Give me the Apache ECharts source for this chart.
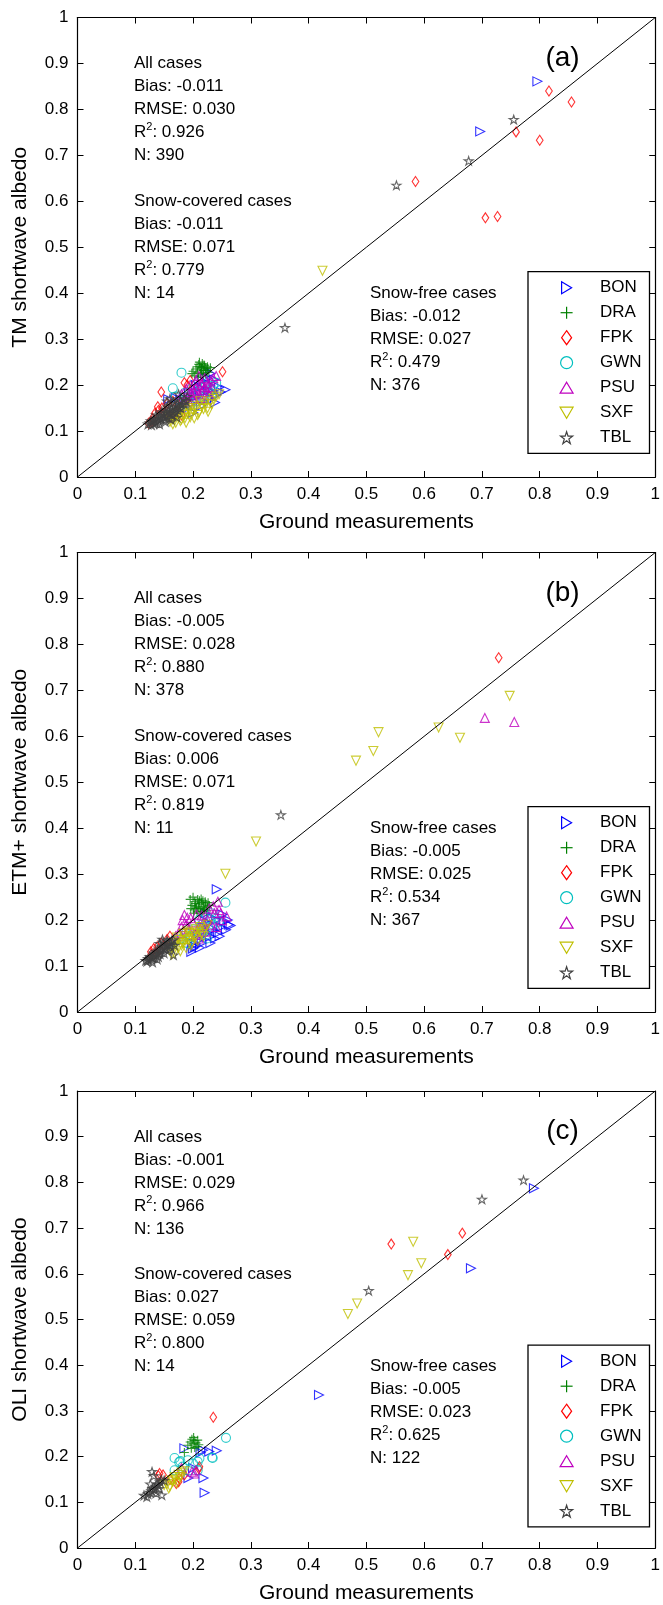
<!DOCTYPE html>
<html><head><meta charset="utf-8">
<script src="https://cdn.jsdelivr.net/npm/echarts@6/dist/echarts.min.js"></script>
<style>html,body{margin:0;padding:0;background:#fff}#c{width:663px;height:1605px}</style>
</head><body><div id="c"></div>
<script>
const stations = ['BON','DRA','FPK','GWN','PSU','SXF','TBL'];
const panelLabels = ['(a)','(b)','(c)'];
const yNames = ['TM shortwave albedo','ETM+ shortwave albedo','OLI shortwave albedo'];
const xName = 'Ground measurements';
const blockTitles = ['All cases','Snow-covered cases','Snow-free cases'];
// [Bias, RMSE, R2, N]
const statsAll  = [['-0.011','0.030','0.926','390'],['-0.005','0.028','0.880','378'],['-0.001','0.029','0.966','136']];
const statsSnow = [['-0.011','0.071','0.779','14'],['0.006','0.071','0.819','11'],['0.027','0.059','0.800','14']];
const statsFree = [['-0.012','0.027','0.479','376'],['-0.005','0.025','0.534','367'],['-0.005','0.023','0.625','122']];

// Panel (a) TM
const a_BON = [[0.796,0.861],[0.697,0.752],[0.256,0.190],[0.240,0.178],[0.235,0.185],[0.228,0.200],[0.222,0.232],[0.215,0.210],[0.210,0.195],[0.205,0.175],[0.198,0.160],[0.190,0.150],[0.185,0.170],[0.178,0.168],[0.170,0.172],[0.225,0.215],[0.232,0.170],[0.245,0.195],[0.218,0.165],[0.200,0.140],[0.212,0.182],[0.157,0.169],[0.238,0.162],[0.226,0.188],[0.193,0.185],[0.248,0.185],[0.236,0.212],[0.205,0.200],[0.196,0.172],[0.214,0.155],[0.230,0.225]];
const a_DRA = [[0.205,0.235],[0.210,0.245],[0.212,0.240],[0.215,0.238],[0.218,0.232],[0.220,0.242],[0.222,0.236],[0.225,0.240],[0.208,0.228],[0.213,0.225],[0.217,0.222],[0.200,0.230],[0.203,0.220],[0.226,0.228],[0.230,0.238],[0.211,0.250],[0.216,0.247],[0.221,0.226],[0.209,0.217],[0.214,0.233],[0.219,0.244],[0.224,0.232],[0.198,0.225],[0.207,0.240]];
const a_FPK = [[0.816,0.840],[0.855,0.816],[0.759,0.751],[0.800,0.733],[0.585,0.643],[0.706,0.564],[0.727,0.567],[0.251,0.229],[0.145,0.185],[0.139,0.153],[0.134,0.139],[0.130,0.128],[0.140,0.145],[0.146,0.150],[0.150,0.140],[0.128,0.120],[0.160,0.130],[0.170,0.140],[0.185,0.205],[0.190,0.200],[0.195,0.210],[0.155,0.160],[0.175,0.158],[0.180,0.135],[0.123,0.117],[0.165,0.165]];
const a_GWN = [[0.180,0.227],[0.165,0.193],[0.235,0.200],[0.230,0.190],[0.225,0.205],[0.215,0.195],[0.210,0.185],[0.200,0.180],[0.190,0.175],[0.185,0.160],[0.175,0.150],[0.240,0.205],[0.220,0.175],[0.205,0.165],[0.195,0.155],[0.170,0.175],[0.228,0.185],[0.198,0.192],[0.212,0.170],[0.222,0.198],[0.186,0.183],[0.232,0.178]];
const a_PSU = [[0.240,0.220],[0.210,0.220],[0.205,0.210],[0.215,0.200],[0.220,0.195],[0.200,0.190],[0.195,0.185],[0.210,0.180],[0.215,0.185],[0.225,0.205],[0.230,0.210],[0.190,0.175],[0.185,0.170],[0.200,0.170],[0.205,0.195],[0.220,0.215],[0.195,0.200],[0.180,0.180],[0.213,0.172],[0.232,0.195],[0.188,0.192],[0.225,0.185],[0.235,0.215],[0.198,0.178],[0.208,0.202],[0.218,0.190],[0.228,0.178],[0.192,0.165],[0.203,0.183],[0.214,0.206],[0.226,0.196]];
const a_SXF = [[0.424,0.449],[0.160,0.120],[0.165,0.125],[0.170,0.118],[0.175,0.130],[0.180,0.125],[0.185,0.135],[0.190,0.140],[0.195,0.130],[0.200,0.145],[0.205,0.150],[0.210,0.140],[0.215,0.155],[0.220,0.160],[0.225,0.150],[0.230,0.165],[0.235,0.170],[0.240,0.175],[0.182,0.145],[0.172,0.138],[0.158,0.132],[0.212,0.165],[0.198,0.155],[0.188,0.118],[0.226,0.142],[0.202,0.128],[0.168,0.128],[0.178,0.122],[0.192,0.150],[0.208,0.135],[0.218,0.148],[0.232,0.158],[0.186,0.128],[0.196,0.138],[0.165,0.115],[0.245,0.180]];
const a_TBL = [[0.755,0.778],[0.677,0.688],[0.552,0.635],[0.359,0.325],[0.122,0.115],[0.125,0.118],[0.128,0.113],[0.130,0.120],[0.133,0.125],[0.135,0.118],[0.138,0.128],[0.140,0.122],[0.143,0.132],[0.145,0.127],[0.148,0.135],[0.150,0.130],[0.153,0.140],[0.155,0.133],[0.158,0.145],[0.160,0.138],[0.163,0.150],[0.165,0.142],[0.168,0.155],[0.170,0.148],[0.173,0.160],[0.175,0.152],[0.178,0.165],[0.180,0.158],[0.185,0.170],[0.190,0.175],[0.142,0.115],[0.152,0.120],[0.162,0.125],[0.172,0.130],[0.136,0.135],[0.146,0.142],[0.156,0.152],[0.166,0.162],[0.175,0.180],[0.127,0.122],[0.132,0.116],[0.137,0.121],[0.144,0.137],[0.149,0.125],[0.154,0.147],[0.159,0.128],[0.164,0.135],[0.169,0.140],[0.174,0.145],[0.179,0.150],[0.184,0.160],[0.188,0.165],[0.160,0.170],[0.155,0.165]];

// Panel (b) ETM+
const b_BON = [[0.241,0.267],[0.262,0.190],[0.257,0.179],[0.243,0.172],[0.229,0.164],[0.211,0.157],[0.203,0.142],[0.197,0.131],[0.240,0.201],[0.222,0.215],[0.251,0.212],[0.200,0.138],[0.215,0.150],[0.235,0.180],[0.248,0.185],[0.225,0.195],[0.208,0.170],[0.232,0.205],[0.218,0.185],[0.198,0.150],[0.238,0.160],[0.254,0.198],[0.205,0.148],[0.265,0.188],[0.246,0.165],[0.230,0.150],[0.212,0.140],[0.226,0.172],[0.260,0.200]];
const b_DRA = [[0.195,0.245],[0.200,0.250],[0.203,0.240],[0.205,0.230],[0.208,0.245],[0.210,0.235],[0.212,0.225],[0.215,0.238],[0.218,0.230],[0.220,0.222],[0.222,0.235],[0.225,0.228],[0.198,0.232],[0.202,0.222],[0.207,0.218],[0.213,0.215],[0.217,0.242],[0.223,0.220],[0.228,0.232],[0.196,0.225],[0.204,0.236],[0.209,0.228],[0.214,0.246],[0.219,0.224],[0.211,0.242],[0.206,0.226],[0.216,0.219],[0.226,0.238],[0.201,0.215],[0.221,0.240]];
const b_FPK = [[0.729,0.771],[0.127,0.131],[0.132,0.138],[0.138,0.142],[0.145,0.150],[0.150,0.145],[0.128,0.125],[0.155,0.158],[0.160,0.165],[0.142,0.135],[0.135,0.128]];
const b_GWN = [[0.256,0.238],[0.222,0.168],[0.188,0.172],[0.211,0.201],[0.229,0.201],[0.224,0.160],[0.235,0.190],[0.200,0.180],[0.215,0.190],[0.195,0.165],[0.240,0.205],[0.205,0.160],[0.180,0.160],[0.170,0.155],[0.218,0.175],[0.232,0.215],[0.160,0.150],[0.190,0.150],[0.245,0.195],[0.226,0.185]];
const b_PSU = [[0.705,0.640],[0.756,0.631],[0.243,0.240],[0.185,0.211],[0.188,0.190],[0.196,0.204],[0.237,0.215],[0.258,0.208],[0.211,0.186],[0.222,0.175],[0.245,0.222],[0.177,0.172],[0.204,0.168],[0.215,0.210],[0.225,0.200],[0.232,0.190],[0.192,0.180],[0.250,0.200],[0.200,0.195],[0.182,0.200],[0.240,0.185],[0.228,0.225],[0.210,0.160],[0.170,0.165],[0.190,0.205],[0.235,0.230],[0.218,0.195],[0.206,0.212],[0.248,0.215],[0.180,0.185]];
const b_SXF = [[0.748,0.688],[0.625,0.619],[0.662,0.597],[0.521,0.609],[0.512,0.568],[0.482,0.547],[0.309,0.371],[0.256,0.301],[0.182,0.150],[0.194,0.172],[0.203,0.161],[0.211,0.175],[0.177,0.157],[0.168,0.128],[0.188,0.139],[0.175,0.140],[0.185,0.165],[0.198,0.150],[0.205,0.180],[0.215,0.170],[0.192,0.158],[0.180,0.145],[0.170,0.150],[0.200,0.165],[0.208,0.155],[0.220,0.180],[0.165,0.140],[0.190,0.175],[0.160,0.135],[0.212,0.185],[0.196,0.145],[0.186,0.155],[0.225,0.190],[0.172,0.162],[0.183,0.170],[0.202,0.170],[0.218,0.165],[0.178,0.132],[0.163,0.125]];
const b_TBL = [[0.352,0.429],[0.120,0.110],[0.123,0.113],[0.127,0.114],[0.130,0.118],[0.133,0.122],[0.136,0.124],[0.139,0.128],[0.142,0.132],[0.145,0.135],[0.148,0.138],[0.151,0.142],[0.154,0.145],[0.157,0.148],[0.160,0.152],[0.163,0.155],[0.166,0.157],[0.142,0.149],[0.148,0.152],[0.166,0.124],[0.130,0.108],[0.138,0.115],[0.125,0.120],[0.135,0.132],[0.150,0.128],[0.158,0.135],[0.145,0.142],[0.155,0.155],[0.140,0.120],[0.162,0.140],[0.168,0.145],[0.132,0.128],[0.118,0.112],[0.152,0.137],[0.128,0.120],[0.143,0.126],[0.160,0.145],[0.147,0.158],[0.122,0.116]];

// Panel (c) OLI
const c_BON = [[0.790,0.787],[0.681,0.612],[0.418,0.335],[0.241,0.213],[0.228,0.211],[0.213,0.209],[0.185,0.218],[0.218,0.153],[0.220,0.121],[0.192,0.153],[0.217,0.214],[0.200,0.175]];
const c_DRA = [[0.191,0.225],[0.195,0.232],[0.198,0.238],[0.200,0.228],[0.202,0.235],[0.205,0.230],[0.207,0.222],[0.203,0.220],[0.210,0.226],[0.197,0.218],[0.185,0.209],[0.208,0.236],[0.201,0.242]];
const c_FPK = [[0.666,0.689],[0.641,0.642],[0.543,0.665],[0.235,0.286],[0.142,0.163],[0.148,0.160],[0.176,0.152],[0.211,0.178],[0.171,0.141],[0.210,0.174],[0.175,0.145],[0.185,0.160],[0.140,0.158],[0.160,0.150]];
const c_GWN = [[0.257,0.241],[0.233,0.198],[0.168,0.197],[0.176,0.188],[0.191,0.192],[0.211,0.196],[0.234,0.197],[0.208,0.170],[0.193,0.170],[0.168,0.170],[0.178,0.190],[0.208,0.189],[0.182,0.178],[0.200,0.185]];
const c_PSU = [[0.202,0.163],[0.198,0.167],[0.205,0.170],[0.180,0.175]];
const c_SXF = [[0.581,0.670],[0.595,0.623],[0.572,0.597],[0.484,0.535],[0.468,0.512],[0.155,0.140],[0.160,0.135],[0.165,0.145],[0.170,0.150],[0.175,0.160],[0.180,0.165],[0.185,0.168],[0.158,0.130],[0.168,0.155],[0.172,0.142],[0.178,0.155],[0.150,0.138],[0.163,0.148]];
const c_TBL = [[0.772,0.805],[0.700,0.763],[0.504,0.563],[0.115,0.115],[0.120,0.112],[0.122,0.118],[0.125,0.122],[0.128,0.125],[0.130,0.130],[0.133,0.128],[0.135,0.135],[0.138,0.140],[0.140,0.138],[0.143,0.145],[0.146,0.116],[0.129,0.167],[0.132,0.158],[0.145,0.150],[0.150,0.148],[0.136,0.120],[0.141,0.130],[0.126,0.140]];

const panelData = [
  [a_BON,a_DRA,a_FPK,a_GWN,a_PSU,a_SXF,a_TBL],
  [b_BON,b_DRA,b_FPK,b_GWN,b_PSU,b_SXF,b_TBL],
  [c_BON,c_DRA,c_FPK,c_GWN,c_PSU,c_SXF,c_TBL]
];

const colors = ['#0000ff','#008000','#ff0000','#00bfbf','#bf00bf','#bfbf00','#404040'];
const symbols = [
  'path://M0,0L10,5L0,10Z',
  'path://M0,5L10,5M5,0L5,10',
  'path://M5,0L9,6L5,12L1,6Z',
  'circle',
  'path://M5,0L10,9L0,9Z',
  'path://M0,0L10,0L5,9Z',
  'path://M5,0L6.2,3.6L10,3.6L6.9,5.8L8.1,9.5L5,7.2L1.9,9.5L3.1,5.8L0,3.6L3.8,3.6Z'
];
const symSizes = [9, 9, 10, 9, 9, 9, 9];
const keepAspect = [false, false, true, false, false, false, true];
// legend icon outlines in a unit box (null = special)
const iconShapes = [
  [[0,0],[1,0.5],[0,1]],
  null,
  [[0.5,0],[1,0.5],[0.5,1],[0,0.5]],
  null,
  [[0.5,0],[1,1],[0,1]],
  [[0,0],[1,0],[0.5,1]],
  [[0.5,0],[0.62,0.37],[1,0.37],[0.69,0.6],[0.81,1],[0.5,0.76],[0.19,1],[0.31,0.6],[0,0.37],[0.38,0.37]]
];
const legendIconSize = [[10,12],[12,12],[10,14],[12,12],[13,11],[13,11],[12,12]];

const FONT = 'Liberation Sans, Arial, sans-serif';
const GL = 77.5, GW = 581.5, GH = 459.5;
const tops = [17.5, 552.5, 1091];

const grid = [], xAxis = [], yAxis = [], series = [], graphic = [];
tops.forEach((T, i) => {
  grid.push({left: GL, top: T, width: GW, height: GH, containLabel: false});
  const tickStyle = {show: true, inside: true, length: 6, lineStyle: {color: '#000', width: 1}};
  const lineStyle = {show: true, onZero: false, lineStyle: {color: '#000', width: 1.2}};
  xAxis.push({gridIndex: i, type: 'value', min: 0, max: 1, interval: 0.1, position: 'bottom',
    axisLine: lineStyle, axisTick: tickStyle, splitLine: {show: false},
    axisLabel: {color: '#000', fontSize: 17, fontFamily: FONT, margin: 9},
    name: xName, nameLocation: 'middle', nameGap: 35,
    nameTextStyle: {color: '#000', fontSize: 21, fontFamily: FONT}});
  xAxis.push({gridIndex: i, type: 'value', min: 0, max: 1, interval: 0.1, position: 'top',
    axisLine: lineStyle, axisTick: tickStyle, splitLine: {show: false}, axisLabel: {show: false}});
  yAxis.push({gridIndex: i, type: 'value', min: 0, max: 1, interval: 0.1, position: 'left',
    axisLine: lineStyle, axisTick: tickStyle, splitLine: {show: false},
    axisLabel: {color: '#000', fontSize: 17, fontFamily: FONT, margin: 9},
    name: yNames[i], nameLocation: 'middle', nameGap: 47,
    nameTextStyle: {color: '#000', fontSize: 21, fontFamily: FONT}});
  yAxis.push({gridIndex: i, type: 'value', min: 0, max: 1, interval: 0.1, position: 'right',
    axisLine: lineStyle, axisTick: tickStyle, splitLine: {show: false}, axisLabel: {show: false}});

  stations.forEach((s, k) => {
    series.push({name: s, type: 'scatter', xAxisIndex: 2*i, yAxisIndex: 2*i,
      data: panelData[i][k], symbol: symbols[k], symbolSize: symSizes[k],
      symbolKeepAspect: keepAspect[k],
      itemStyle: {color: 'rgba(0,0,0,0)', borderColor: colors[k], borderWidth: 1.1},
      emphasis: {disabled: true}, silent: true});
  });
  series.push({type: 'line', xAxisIndex: 2*i, yAxisIndex: 2*i, data: [[0,0],[1,1]],
    symbol: 'none', lineStyle: {color: '#000', width: 1}, silent: true, z: 5});

  // legend: box, icons, names
  graphic.push({type: 'rect', z: 8, shape: {x: 528, y: T + 254.2, width: 121.5, height: 181.6},
    style: {fill: '#fff', stroke: '#000', lineWidth: 1.3}});
  stations.forEach((s, k) => {
    const cx = 566.6, cy = T + 270.2 + k * 25;
    const w = legendIconSize[k][0], h = legendIconSize[k][1];
    const st = {fill: 'none', stroke: colors[k], lineWidth: 1.2};
    if (iconShapes[k]) {
      const pts = iconShapes[k].map(p => [cx - w / 2 + p[0] * w, cy - h / 2 + p[1] * h]);
      graphic.push({type: 'polygon', z: 9, shape: {points: pts}, style: st});
    } else if (s === 'DRA') {
      graphic.push({type: 'line', z: 9, shape: {x1: cx - w / 2, y1: cy, x2: cx + w / 2, y2: cy}, style: st});
      graphic.push({type: 'line', z: 9, shape: {x1: cx, y1: cy - h / 2, x2: cx, y2: cy + h / 2}, style: st});
    } else {
      graphic.push({type: 'circle', z: 9, shape: {cx: cx, cy: cy, r: w / 2}, style: st});
    }
    graphic.push({type: 'text', z: 9, x: 600, y: cy,
      style: {text: s, align: 'left', verticalAlign: 'middle', font: '17px ' + FONT, fill: '#000'}});
  });

  const blocks = [[134, 0.9, statsAll[i]], [134, 0.6, statsSnow[i]], [370, 0.4, statsFree[i]]];
  blocks.forEach((b, bi) => {
    const lines = [
      '{n|' + blockTitles[bi] + '}',
      '{n|Bias: ' + b[2][0] + '}',
      '{n|RMSE: ' + b[2][1] + '}',
      '{n|R}{s|2}{n|: ' + b[2][2] + '}',
      '{n|N: ' + b[2][3] + '}'
    ];
    lines.forEach((txt, li) => {
      graphic.push({type: 'text', x: b[0], y: T + (1 - b[1] + li * 0.05) * GH, z: 10,
        style: {text: txt, align: 'left', verticalAlign: 'middle',
          rich: {n: {fontSize: 17, fontFamily: FONT, fill: '#000', color: '#000', lineHeight: 22},
                 s: {fontSize: 11, fontFamily: FONT, fill: '#000', color: '#000', verticalAlign: 'top', lineHeight: 12}}}});
    });
  });
  graphic.push({type: 'text', x: 562.5, y: T + 40.5, z: 10,
    style: {text: panelLabels[i], align: 'center', verticalAlign: 'middle',
      font: '28px ' + FONT, fill: '#000'}});
});

const chart = echarts.init(document.getElementById('c'), null, {renderer: 'canvas'});
chart.setOption({
  animation: false,
  backgroundColor: '#fff',
  textStyle: {fontFamily: FONT},
  grid, xAxis, yAxis, series, graphic
});
</script></body></html>
